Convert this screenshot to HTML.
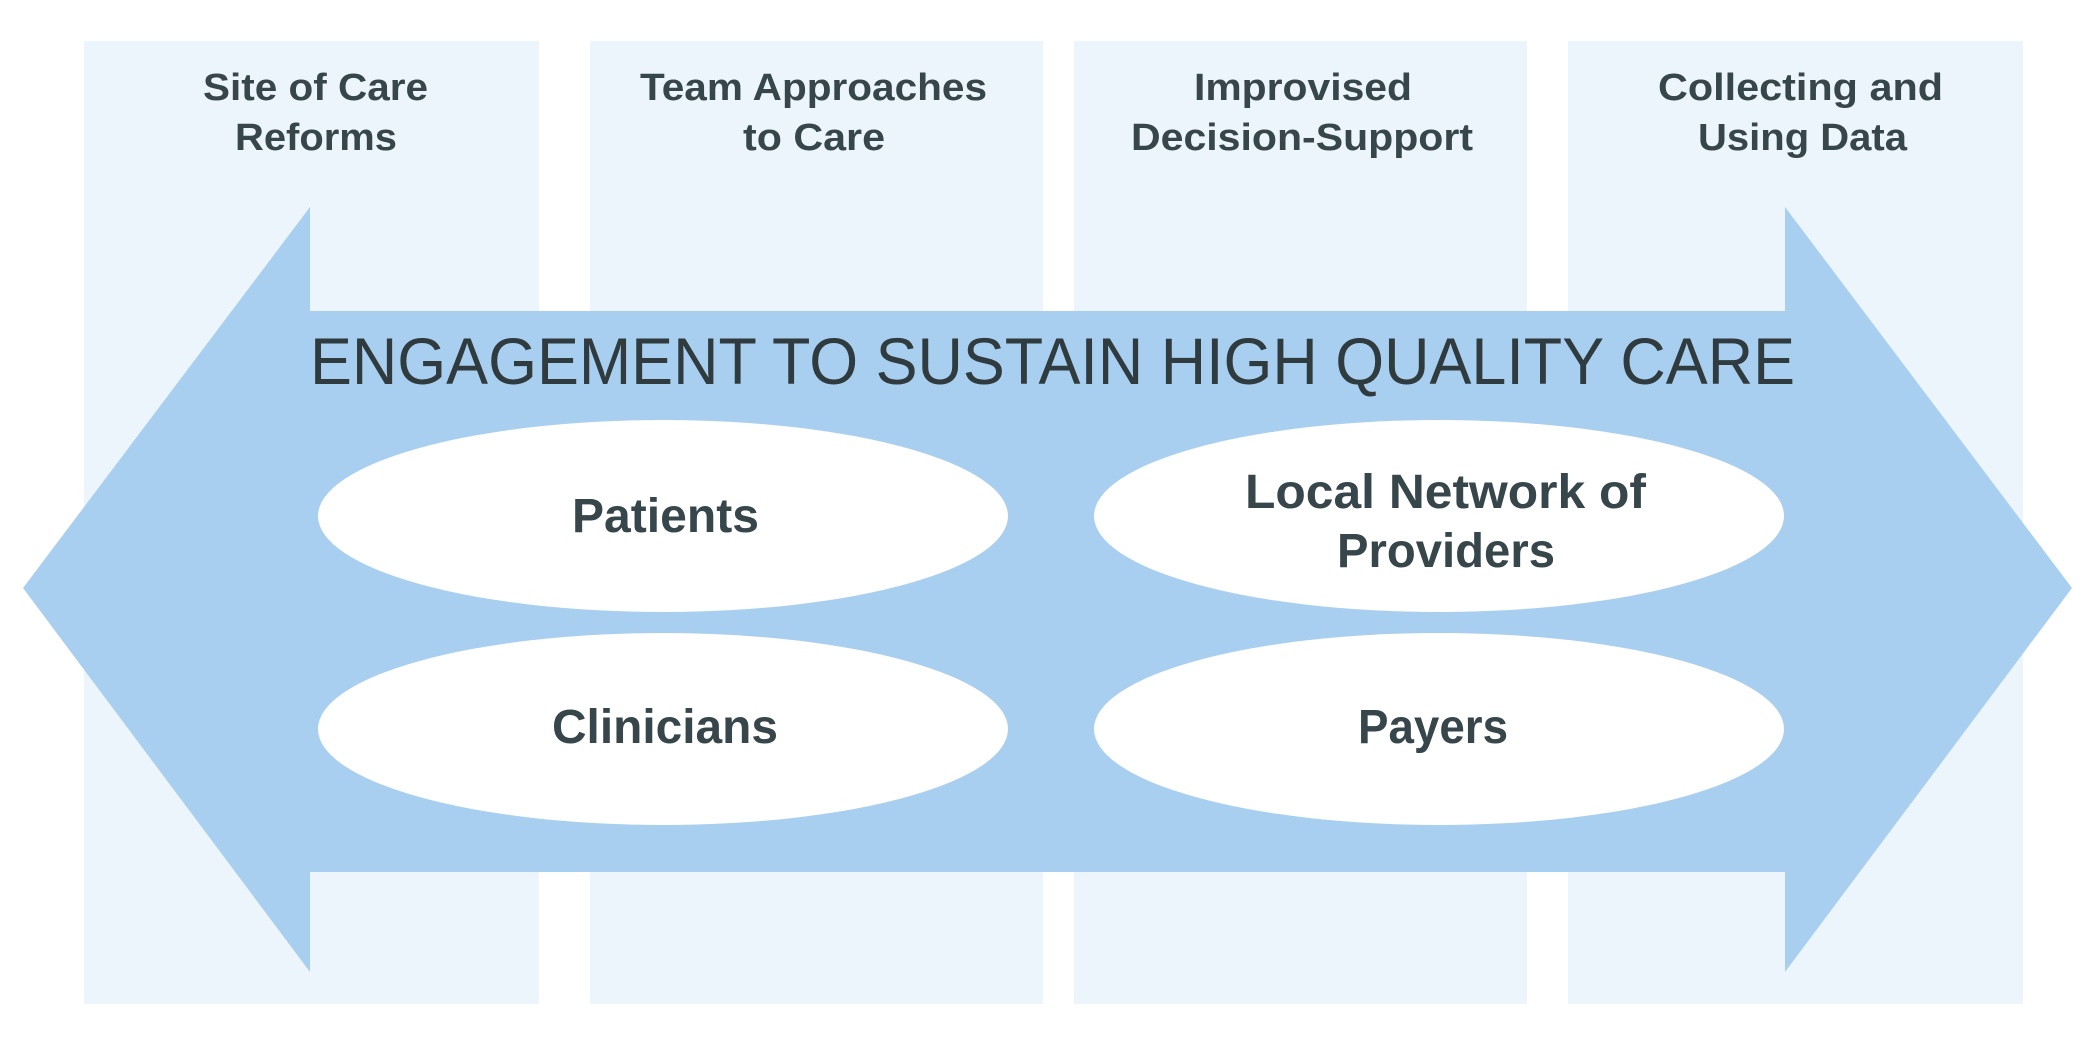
<!DOCTYPE html>
<html><head><meta charset="utf-8"><style>html,body{margin:0;padding:0;background:#fff}svg{display:block}</style></head>
<body>
<svg width="2096" height="1042" viewBox="0 0 2096 1042" xmlns="http://www.w3.org/2000/svg">
<g fill="#edf5fc">
<rect x="84" y="41" width="455" height="963"/>
<rect x="590" y="41" width="453" height="963"/>
<rect x="1074" y="41" width="453" height="963"/>
<rect x="1568" y="41" width="455" height="963"/>
</g>
<polygon fill="#a8cfef" points="23,588 310,207 310,311 1785,311 1785,207 2072,588 1785,972 1785,872 310,872 310,972"/>
<g fill="#fff">
<ellipse cx="663" cy="516" rx="345" ry="96"/>
<ellipse cx="1439" cy="516" rx="345" ry="96"/>
<ellipse cx="663" cy="729" rx="345" ry="96"/>
<ellipse cx="1439" cy="729" rx="345" ry="96"/>
</g>
<g font-family="Liberation Sans, sans-serif" fill="#37464b" font-weight="bold" font-size="38">
<text x="203" y="100" textLength="225" lengthAdjust="spacingAndGlyphs">Site of Care</text>
<text x="235" y="150" textLength="162" lengthAdjust="spacingAndGlyphs">Reforms</text>
<text x="640" y="100" textLength="347" lengthAdjust="spacingAndGlyphs">Team Approaches</text>
<text x="743" y="150" textLength="142" lengthAdjust="spacingAndGlyphs">to Care</text>
<text x="1194" y="100" textLength="218" lengthAdjust="spacingAndGlyphs">Improvised</text>
<text x="1131" y="150" textLength="342" lengthAdjust="spacingAndGlyphs">Decision-Support</text>
<text x="1658" y="100" textLength="285" lengthAdjust="spacingAndGlyphs">Collecting and</text>
<text x="1698" y="150" textLength="209" lengthAdjust="spacingAndGlyphs">Using Data</text>
</g>
<text x="310" y="384" font-family="Liberation Sans, sans-serif" font-size="66" fill="#2f3b3e" textLength="1485" lengthAdjust="spacingAndGlyphs">ENGAGEMENT TO SUSTAIN HIGH QUALITY CARE</text>
<g font-family="Liberation Sans, sans-serif" fill="#37464b" font-weight="bold" font-size="48">
<text x="572" y="532" textLength="187" lengthAdjust="spacingAndGlyphs">Patients</text>
<text x="552" y="743" textLength="226" lengthAdjust="spacingAndGlyphs">Clinicians</text>
<text x="1245" y="508" textLength="401" lengthAdjust="spacingAndGlyphs">Local Network of</text>
<text x="1337" y="567" textLength="218" lengthAdjust="spacingAndGlyphs">Providers</text>
<text x="1358" y="743" textLength="150" lengthAdjust="spacingAndGlyphs">Payers</text>
</g>
</svg>
</body></html>
